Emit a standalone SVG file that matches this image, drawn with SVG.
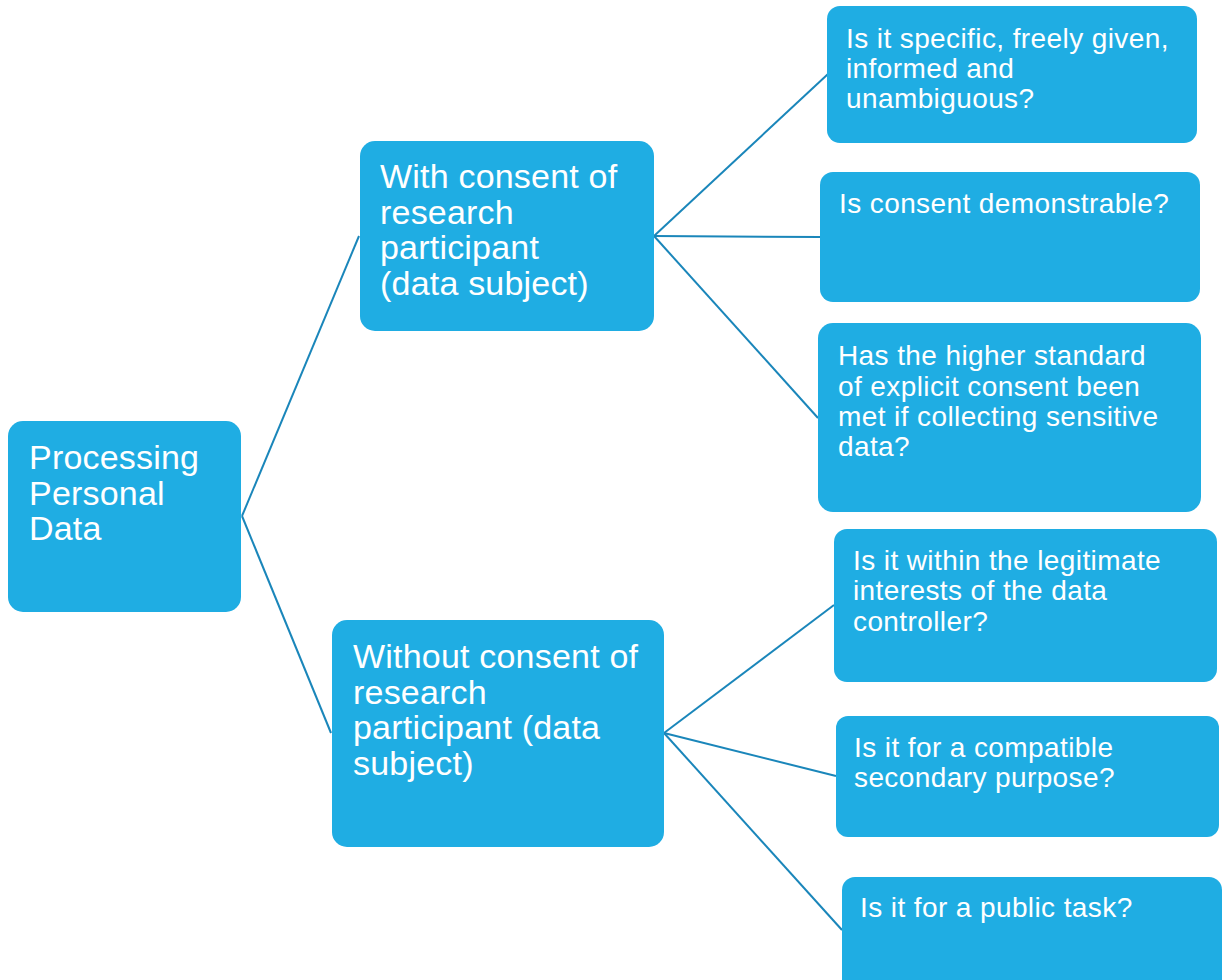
<svg xmlns="http://www.w3.org/2000/svg" width="1223" height="980" viewBox="0 0 1223 980">
<style>
.box{fill:#1fade3;}
.big{font-family:"Liberation Sans",Arial,sans-serif;font-size:34px;letter-spacing:0.2px;fill:#ffffff;}
.small{font-family:"Liberation Sans",Arial,sans-serif;font-size:28px;letter-spacing:0.4px;fill:#ffffff;}
.conn{stroke:#1a86ba;stroke-width:2;fill:none;}
</style>
<rect width="1223" height="980" fill="#ffffff"/>
<g id="connectors">
<line class="conn" x1="242" y1="516" x2="359" y2="236"/>
<line class="conn" x1="242" y1="516" x2="331" y2="733"/>
<line class="conn" x1="654" y1="236" x2="828" y2="74"/>
<line class="conn" x1="654" y1="236" x2="820" y2="237"/>
<line class="conn" x1="654" y1="236" x2="818" y2="418"/>
<line class="conn" x1="664" y1="733" x2="834" y2="605"/>
<line class="conn" x1="664" y1="733" x2="836" y2="776"/>
<line class="conn" x1="664" y1="733" x2="842" y2="930"/>
</g>
<g id="n-processing">
<rect class="box" x="8" y="421" width="233" height="191" rx="15"/>
<text class="big" x="29" y="469">Processing<tspan x="29" y="504.5">Personal</tspan><tspan x="29" y="540">Data</tspan></text>
</g>
<g id="n-with">
<rect class="box" x="360" y="141" width="294" height="190" rx="15"/>
<text class="big" x="380" y="188">With consent of<tspan x="380" y="223.7">research</tspan><tspan x="380" y="259.3">participant</tspan><tspan x="380" y="295">(data subject)</tspan></text>
</g>
<g id="n-without">
<rect class="box" x="332" y="620" width="332" height="227" rx="15"/>
<text class="big" x="353" y="668">Without consent of<tspan x="353" y="703.7">research</tspan><tspan x="353" y="739.3">participant (data</tspan><tspan x="353" y="775">subject)</tspan></text>
</g>
<g id="n-specific">
<rect class="box" x="827" y="6" width="370" height="137" rx="13"/>
<text class="small" x="846" y="48">Is it specific, freely given,<tspan x="846" y="78">informed and</tspan><tspan x="846" y="108">unambiguous?</tspan></text>
</g>
<g id="n-demonstrable">
<rect class="box" x="820" y="172" width="380" height="130" rx="13"/>
<text class="small" x="839" y="212.5">Is consent demonstrable?</text>
</g>
<g id="n-explicit">
<rect class="box" x="818" y="323" width="383" height="189" rx="15"/>
<text class="small" x="838" y="365">Has the higher standard<tspan x="838" y="395.5">of explicit consent been</tspan><tspan x="838" y="426">met if collecting sensitive</tspan><tspan x="838" y="456">data?</tspan></text>
</g>
<g id="n-legitimate">
<rect class="box" x="834" y="529" width="383" height="153" rx="13"/>
<text class="small" x="853" y="570">Is it within the legitimate<tspan x="853" y="600">interests of the data</tspan><tspan x="853" y="631">controller?</tspan></text>
</g>
<g id="n-compatible">
<rect class="box" x="836" y="716" width="383" height="121" rx="12"/>
<text class="small" x="854" y="757">Is it for a compatible<tspan x="854" y="787">secondary purpose?</tspan></text>
</g>
<g id="n-public">
<rect class="box" x="842" y="877" width="380" height="130" rx="13"/>
<text class="small" x="860" y="917">Is it for a public task?</text>
</g>
</svg>
